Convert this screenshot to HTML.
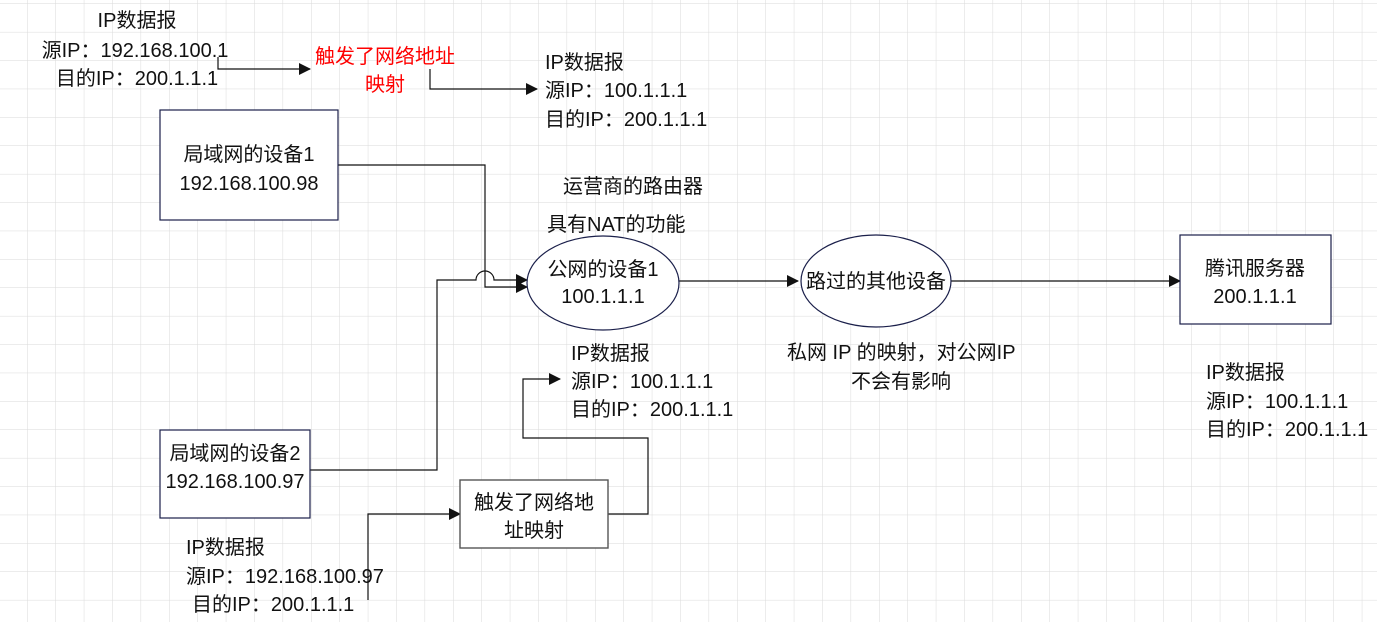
<!DOCTYPE html>
<html><head><meta charset="utf-8"><style>
html,body{margin:0;padding:0;background:#fff;}
svg{display:block;}
text{font-family:"Liberation Sans","Noto Sans CJK SC",sans-serif;font-size:20px;fill:#111;}
</style></head><body>
<svg width="1377" height="622" viewBox="0 0 1377 622" xmlns="http://www.w3.org/2000/svg">
<defs>
<pattern id="g" x="-1.4" y="3.5" width="28.4" height="28.4" patternUnits="userSpaceOnUse">
<path d="M0 0H28.4M0 0V28.4" stroke="#dadada" stroke-width="1" fill="none"/>
</pattern>
<marker id="a" markerWidth="12" markerHeight="12" refX="11" refY="6" orient="auto" markerUnits="userSpaceOnUse">
<path d="M0 0L12 6L0 12Z" fill="#111"/>
</marker>
</defs>
<rect width="1377" height="622" fill="url(#g)"/>
<g fill="none" stroke="#111" stroke-width="1.2">
<path d="M218 57V69H310" marker-end="url(#a)"/>
<path d="M430 69V89H537" marker-end="url(#a)"/>
<path d="M338 165H485V287H527" marker-end="url(#a)"/>
<path d="M310 470H437V280H476A9 9 0 0 1 494 280H527" marker-end="url(#a)"/>
<path d="M679 281H798" marker-end="url(#a)"/>
<path d="M951 281H1180" marker-end="url(#a)"/>
<path d="M368 600V514H460" marker-end="url(#a)"/>
<path d="M608 514H648V438H523V379H560" marker-end="url(#a)"/>
</g>
<g fill="#fff" stroke="#1a1f4a" stroke-width="1.2">
<rect x="160" y="110" width="178" height="110"/>
<rect x="160" y="430" width="150" height="88"/>
<rect x="1180" y="235" width="151" height="89"/>
<ellipse cx="603" cy="283" rx="76" ry="47"/>
<ellipse cx="876" cy="281" rx="75" ry="46"/>
</g>
<rect x="460" y="480" width="148" height="68" fill="#fff" stroke="#555" stroke-width="1.4"/>
<g text-anchor="middle">
<text x="137" y="27">IP数据报</text>
<text x="135" y="57">源IP：192.168.100.1</text>
<text x="137" y="85">目的IP：200.1.1.1</text>
<text x="385" y="63" style="fill:#f00">触发了网络地址</text>
<text x="385" y="91" style="fill:#f00">映射</text>
<text x="249" y="161">局域网的设备1</text>
<text x="249" y="190">192.168.100.98</text>
<text x="603" y="276">公网的设备1</text>
<text x="603" y="303">100.1.1.1</text>
<text x="876" y="288">路过的其他设备</text>
<text x="1255" y="275">腾讯服务器</text>
<text x="1255" y="303">200.1.1.1</text>
<text x="235" y="460">局域网的设备2</text>
<text x="235" y="488">192.168.100.97</text>
<text x="534" y="509">触发了网络地</text>
<text x="534" y="537">址映射</text>
</g>
<text x="545" y="69">IP数据报</text>
<text x="545" y="97">源IP：100.1.1.1</text>
<text x="545" y="126">目的IP：200.1.1.1</text>
<text x="563" y="193">运营商的路由器</text>
<text x="547" y="231">具有NAT的功能</text>
<text x="571" y="360">IP数据报</text>
<text x="571" y="388">源IP：100.1.1.1</text>
<text x="571" y="416">目的IP：200.1.1.1</text>
<text x="787" y="359">私网 IP 的映射，对公网IP</text>
<text x="851" y="388">不会有影响</text>
<text x="1206" y="379">IP数据报</text>
<text x="1206" y="408">源IP：100.1.1.1</text>
<text x="1206" y="436">目的IP：200.1.1.1</text>
<text x="186" y="554">IP数据报</text>
<text x="186" y="583">源IP：192.168.100.97</text>
<text x="192" y="611">目的IP：200.1.1.1</text>
</svg>
</body></html>
